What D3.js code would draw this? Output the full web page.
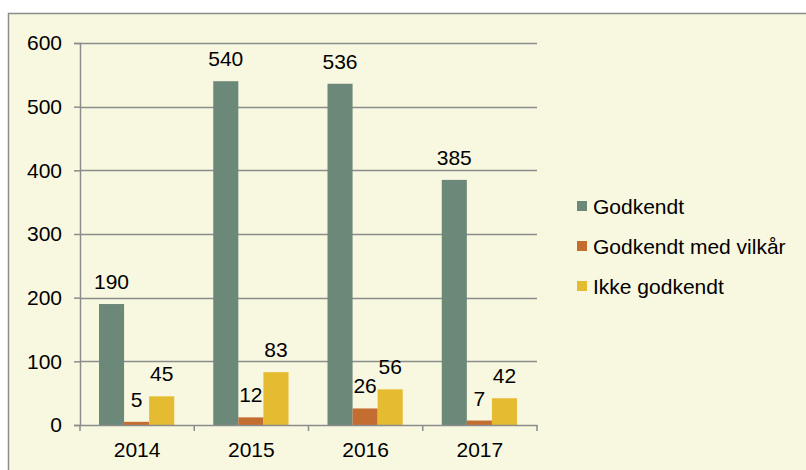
<!DOCTYPE html>
<html>
<head>
<meta charset="UTF-8">
<script src="https://cdnjs.cloudflare.com/ajax/libs/d3/7.8.5/d3.min.js"></script>
<style>
  body { margin: 0; background: #fff; }
  text { font-family: "Liberation Sans", Arial, sans-serif; fill: #000; }
</style>
</head>
<body>
<div id="chart"></div>
<script>
var years = ["2014", "2015", "2016", "2017"],
    seriesNames = ["Godkendt", "Godkendt med vilkår", "Ikke godkendt"],
    godkendt = [190, 540, 536, 385],
    medVilkaar = [5, 12, 26, 7],
    ikkeGodkendt = [45, 83, 56, 42],
    yTicks = [0, 100, 200, 300, 400, 500, 600];

var colors = ["#6b8878", "#c46d31", "#e5bb31"];
var values = [godkendt, medVilkaar, ikkeGodkendt];

var w = 806, h = 470,
    plotLeft = 80, plotRight = 537, plotTop = 43, plotBottom = 425,
    fs = "21px";

var svg = d3.select("#chart").append("svg")
    .attr("width", w)
    .attr("height", h);

// chart frame
svg.append("rect")
    .attr("x", 8.5).attr("y", 13.5)
    .attr("width", 820).attr("height", 480)
    .attr("fill", "#f8f8e1")
    .attr("stroke", "#8c8c8c")
    .attr("stroke-width", 1.5);

var x = d3.scaleBand().domain(years).range([plotLeft, plotRight]).paddingInner(0).paddingOuter(0);
var x1 = d3.scaleBand().domain(seriesNames).range([19, x.bandwidth() - 20]);
var y = d3.scaleLinear().domain([0, 600]).range([plotBottom, plotTop]);

// gridlines
svg.append("g").selectAll("line")
    .data(yTicks.slice(1))
    .enter().append("line")
    .attr("x1", plotLeft).attr("x2", plotRight)
    .attr("y1", d => Math.round(y(d)) + 0.5).attr("y2", d => Math.round(y(d)) + 0.5)
    .attr("stroke", "#8c8c8c")
    .attr("stroke-width", 1.5);

// y axis
var yAxis = svg.append("g")
    .attr("transform", "translate(" + plotLeft + ",0)")
    .call(d3.axisLeft(y).tickValues(yTicks).tickSize(6).tickPadding(12));
yAxis.selectAll("text").style("font-size", fs);

// bars
years.forEach(function(yr, i) {
  var g = svg.append("g").attr("transform", "translate(" + x(yr) + ",0)");
  seriesNames.forEach(function(s, k) {
    var v = values[k][i];
    g.append("rect")
      .attr("x", x1(s))
      .attr("y", y(v))
      .attr("width", x1.bandwidth())
      .attr("height", y(0) - y(v))
      .attr("fill", colors[k]);
    g.append("text")
      .attr("x", x1(s) + x1.bandwidth() / 2)
      .attr("y", y(v) - 15)
      .attr("text-anchor", "middle")
      .style("font-size", fs)
      .text(v);
  });
});

// x axis
var xAxis = svg.append("g")
    .attr("transform", "translate(0," + plotBottom + ")")
    .call(d3.axisBottom(x).tickSize(0).tickPadding(17));
xAxis.selectAll("text").style("font-size", fs);
svg.append("g").selectAll("line")
    .data(d3.range(years.length + 1))
    .enter().append("line")
    .attr("x1", d => plotLeft + d * x.bandwidth()).attr("x2", d => plotLeft + d * x.bandwidth())
    .attr("y1", plotBottom).attr("y2", plotBottom + 6)
    .attr("stroke", "#8c8c8c").attr("stroke-width", 1.5);

svg.selectAll(".domain").attr("stroke", "#8c8c8c").attr("stroke-width", 1.5);
svg.selectAll(".tick line").attr("stroke", "#8c8c8c").attr("stroke-width", 1.5);

// legend
var legend = svg.append("g").attr("transform", "translate(577,0)");
seriesNames.forEach(function(s, k) {
  var cy = 206 + k * 40;
  legend.append("rect")
    .attr("x", 0).attr("y", cy - 5)
    .attr("width", 10).attr("height", 10)
    .attr("fill", colors[k]);
  legend.append("text")
    .attr("x", 16).attr("y", cy + 7.5)
    .style("font-size", fs)
    .text(s);
});
</script>
</body>
</html>
